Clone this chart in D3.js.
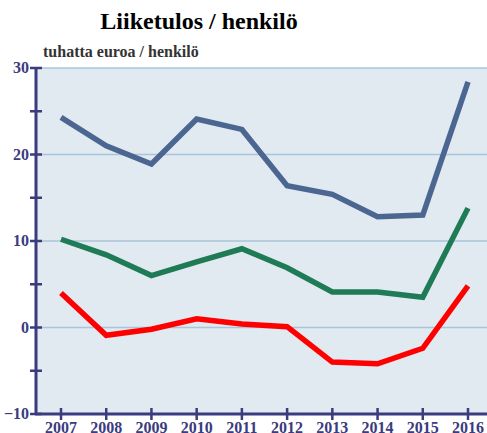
<!DOCTYPE html>
<html>
<head>
<meta charset="utf-8">
<script src="https://cdn.jsdelivr.net/npm/d3@7"></script>
<style>
  body { margin: 0; background: #fff; }
  text { font-family: "Liberation Serif", "Times New Roman", serif; font-weight: bold; }
</style>
</head>
<body>
<svg width="487" height="433"></svg>
<script>
var years = [2007, 2008, 2009, 2010, 2011, 2012, 2013, 2014, 2015, 2016];
var blue  = [24.3, 21.0, 18.9, 24.1, 22.9, 16.4, 15.4, 12.8, 13.0, 28.4];
var green = [10.2, 8.4, 6.0, 7.6, 9.1, 6.9, 4.1, 4.1, 3.5, 13.8];
var red   = [4.0, -0.9, -0.2, 1.0, 0.4, 0.1, -4.0, -4.2, -2.4, 4.8];
var yTicks = [-10, 0, 10, 20, 30];
var yMinor = [-5, 5, 15, 25];

var svg = d3.select('svg');
var plotL = 36, plotR = 487, plotT = 68, plotB = 414;
var navy = '#3b3b7e';

var x = d3.scaleLinear().domain([2007, 2016]).range([61, 468]);
var y = d3.scaleLinear().domain([-10, 30]).range([plotB, plotT]);

// plot background
svg.append('rect')
  .attr('x', plotL).attr('y', plotT)
  .attr('width', plotR - plotL).attr('height', plotB - plotT)
  .attr('fill', '#e1e9f1');

// grid
svg.append('g').selectAll('line')
  .data(yTicks.filter(function(d) { return d > -10; }))
  .enter().append('line')
  .attr('x1', plotL).attr('x2', plotR)
  .attr('y1', function(d) { return y(d); })
  .attr('y2', function(d) { return y(d); })
  .attr('stroke', '#a9c5d9').attr('stroke-width', 1.5);

// series
var line = d3.line()
  .x(function(d, i) { return x(years[i]); })
  .y(function(d) { return y(d); });

[[blue, '#4b6690'], [green, '#1f7a56'], [red, '#ff0000']].forEach(function(s) {
  svg.append('path')
    .attr('d', line(s[0]))
    .attr('fill', 'none')
    .attr('stroke', s[1])
    .attr('stroke-width', 5.5);
});

// y axis
svg.append('line')
  .attr('x1', plotL).attr('x2', plotL)
  .attr('y1', plotT).attr('y2', plotB)
  .attr('stroke', navy).attr('stroke-width', 3);

svg.append('g').selectAll('line')
  .data(yTicks.concat(yMinor))
  .enter().append('line')
  .attr('x1', plotL - 6).attr('x2', plotL + 6)
  .attr('y1', function(d) { return y(d); })
  .attr('y2', function(d) { return y(d); })
  .attr('stroke', navy).attr('stroke-width', 2.5);

svg.append('g').selectAll('text')
  .data(yTicks)
  .enter().append('text')
  .attr('x', plotL - 7)
  .attr('y', function(d) { return y(d) + 5; })
  .attr('text-anchor', 'end')
  .attr('font-size', 16)
  .attr('fill', navy)
  .text(function(d) { return d < 0 ? '\u2212' + Math.abs(d) : d; });

// x axis
svg.append('line')
  .attr('x1', plotL - 1).attr('x2', plotR)
  .attr('y1', plotB).attr('y2', plotB)
  .attr('stroke', navy).attr('stroke-width', 3);

svg.append('g').selectAll('line')
  .data(years)
  .enter().append('line')
  .attr('x1', function(d) { return x(d); })
  .attr('x2', function(d) { return x(d); })
  .attr('y1', plotB - 6).attr('y2', plotB + 6)
  .attr('stroke', navy).attr('stroke-width', 2.5);

svg.append('g').selectAll('text')
  .data(years)
  .enter().append('text')
  .attr('x', function(d) { return x(d); })
  .attr('y', plotB + 19)
  .attr('text-anchor', 'middle')
  .attr('font-size', 16)
  .attr('fill', navy)
  .text(function(d) { return d; });

// titles
svg.append('text')
  .attr('x', 199).attr('y', 29)
  .attr('text-anchor', 'middle')
  .attr('font-size', 24)
  .attr('fill', '#000')
  .text('Liiketulos / henkilö');

svg.append('text')
  .attr('x', 43).attr('y', 57)
  .attr('font-size', 16)
  .attr('fill', '#333')
  .text('tuhatta euroa / henkilö');
</script>
</body>
</html>
